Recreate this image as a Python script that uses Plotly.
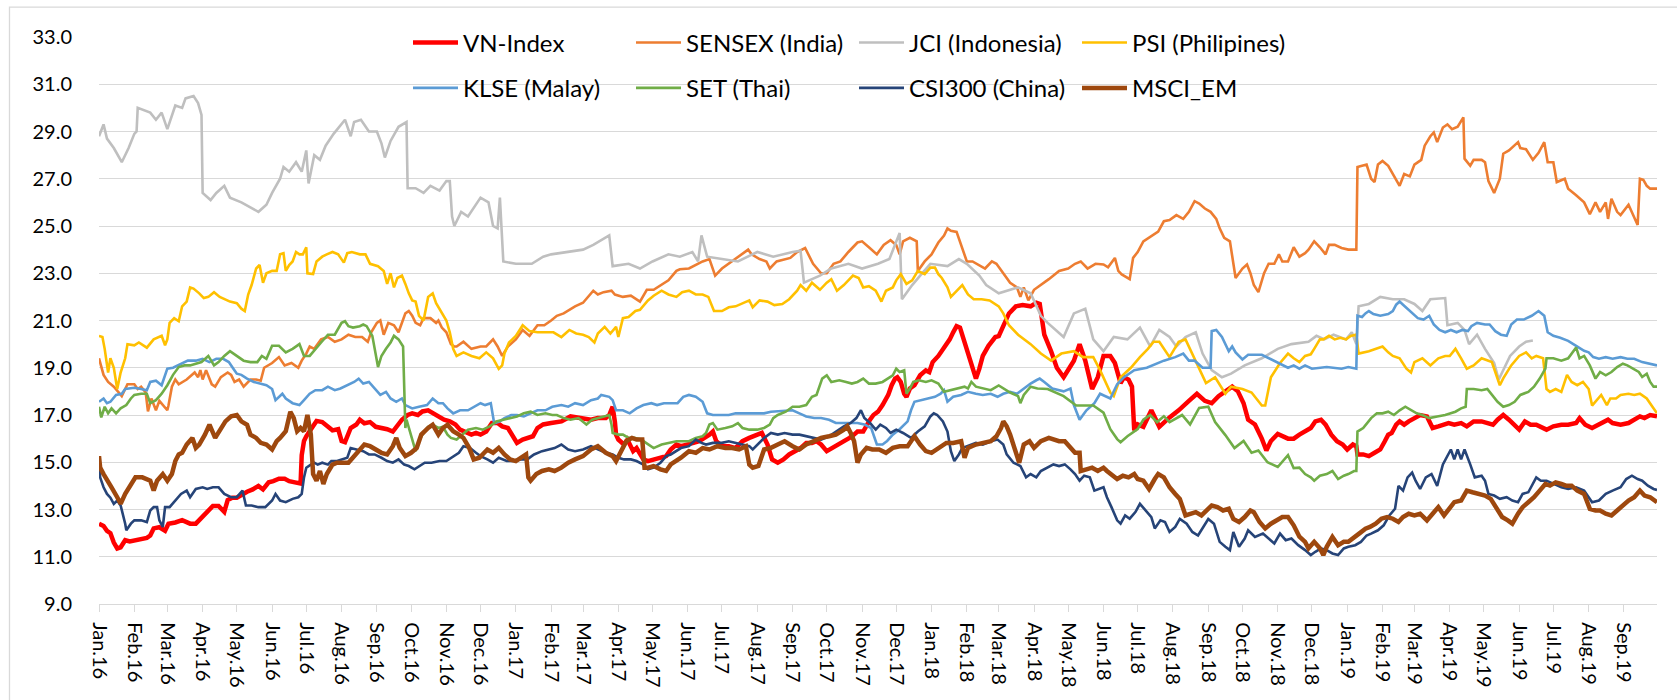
import plotly.graph_objects as go

VN_INDEX = [("2016-01-01",12.4),("2016-01-05",12.3),("2016-01-08",12.1),("2016-01-11",12.0),("2016-01-14",11.6),("2016-01-17",11.35),("2016-01-20",11.4),("2016-01-24",11.7),("2016-01-28",11.65),("2016-02-02",11.7),("2016-02-07",11.77),("2016-02-12",11.8),("2016-02-15",11.9),("2016-02-18",12.2),("2016-02-23",12.25),("2016-02-28",12.1),("2016-03-02",12.4),("2016-03-08",12.45),("2016-03-14",12.55),("2016-03-21",12.4),("2016-03-26",12.4),("2016-04-01",12.7),("2016-04-05",12.95),("2016-04-10",13.15),("2016-04-15",13.15),("2016-04-20",12.9),("2016-04-23",13.4),("2016-04-27",13.5),("2016-05-01",13.5),("2016-05-06",13.65),("2016-05-10",13.75),("2016-05-15",13.85),("2016-05-20",14.0),("2016-05-24",13.85),("2016-05-29",14.15),("2016-06-02",14.2),("2016-06-07",14.3),("2016-06-12",14.3),("2016-06-16",14.2),("2016-06-21",14.15),("2016-06-26",14.1),("2016-06-27",15.3),("2016-06-29",15.9),("2016-07-01",16.1),("2016-07-05",16.4),("2016-07-10",16.75),("2016-07-15",16.7),("2016-07-20",16.5),("2016-07-24",16.35),("2016-07-29",16.4),("2016-08-01",15.9),("2016-08-04",15.85),("2016-08-09",16.45),("2016-08-14",16.6),("2016-08-17",16.8),("2016-08-21",16.65),("2016-08-26",16.7),("2016-08-31",16.5),("2016-09-05",16.45),("2016-09-10",16.4),("2016-09-15",16.3),("2016-09-18",16.5),("2016-09-23",16.8),("2016-09-28",17.0),("2016-10-02",17.07),("2016-10-07",17.0),("2016-10-11",17.15),("2016-10-16",17.2),("2016-10-21",17.07),("2016-10-26",16.93),("2016-10-30",16.8),("2016-11-04",16.73),("2016-11-09",16.6),("2016-11-13",16.38),("2016-11-18",16.3),("2016-11-23",16.17),("2016-11-27",16.24),("2016-12-01",16.17),("2016-12-06",16.3),("2016-12-11",16.66),("2016-12-16",16.66),("2016-12-20",16.52),("2016-12-25",16.45),("2016-12-30",16.1),("2017-01-02",15.82),("2017-01-07",15.96),("2017-01-12",16.03),("2017-01-16",16.1),("2017-01-20",16.45),("2017-01-25",16.6),("2017-02-01",16.66),("2017-02-10",16.73),("2017-02-18",16.94),("2017-03-01",16.87),("2017-03-08",16.8),("2017-03-14",16.87),("2017-03-21",16.87),("2017-03-24",17.0),("2017-03-27",17.35),("2017-03-29",16.7),("2017-03-30",16.17),("2017-04-01",15.96),("2017-04-06",15.75),("2017-04-09",15.96),("2017-04-14",15.47),("2017-04-17",15.6),("2017-04-20",15.33),("2017-04-23",15.12),("2017-04-27",15.05),("2017-05-02",15.12),("2017-05-08",15.19),("2017-05-13",15.26),("2017-05-17",15.54),("2017-05-22",15.75),("2017-05-26",15.68),("2017-06-02",15.75),("2017-06-06",15.82),("2017-06-11",15.89),("2017-06-16",16.03),("2017-06-20",16.17),("2017-06-23",16.3),("2017-06-26",15.89),("2017-07-01",15.68),("2017-07-07",15.68),("2017-07-13",15.6),("2017-07-19",15.89),("2017-07-25",16.03),("2017-08-01",16.17),("2017-08-05",16.24),("2017-08-10",15.75),("2017-08-14",15.12),("2017-08-19",14.98),("2017-08-24",15.12),("2017-08-29",15.33),("2017-09-03",15.47),("2017-09-08",15.6),("2017-09-13",15.82),("2017-09-18",15.82),("2017-09-22",15.89),("2017-09-26",15.75),("2017-10-01",15.47),("2017-10-06",15.6),("2017-10-11",15.75),("2017-10-16",15.89),("2017-10-21",16.03),("2017-10-25",16.17),("2017-10-28",16.3),("2017-11-02",16.3),("2017-11-05",16.6),("2017-11-08",16.8),("2017-11-11",17.0),("2017-11-15",17.14),("2017-11-19",17.42),("2017-11-24",17.85),("2017-11-27",18.26),("2017-11-30",18.54),("2017-12-02",18.6),("2017-12-05",18.4),("2017-12-08",17.9),("2017-12-10",17.77),("2017-12-13",18.12),("2017-12-17",18.26),("2017-12-22",18.68),("2017-12-27",18.89),("2017-12-30",18.82),("2018-01-02",19.24),("2018-01-07",19.5),("2018-01-10",19.7),("2018-01-13",19.95),("2018-01-17",20.2),("2018-01-20",20.5),("2018-01-23",20.76),("2018-01-26",20.7),("2018-01-30",20.07),("2018-02-02",19.55),("2018-02-07",18.82),("2018-02-09",18.54),("2018-02-12",18.96),("2018-02-15",19.5),("2018-02-20",19.93),("2018-02-26",20.3),("2018-03-01",20.34),("2018-03-05",20.76),("2018-03-10",21.3),("2018-03-16",21.6),("2018-03-22",21.65),("2018-03-29",21.6),("2018-04-03",21.75),("2018-04-06",21.7),("2018-04-10",20.4),("2018-04-16",19.7),("2018-04-21",19.0),("2018-04-27",18.6),("2018-05-01",18.9),("2018-05-06",19.3),("2018-05-11",20.0),("2018-05-16",19.3),("2018-05-22",18.1),("2018-05-27",18.6),("2018-06-01",19.5),("2018-06-07",19.5),("2018-06-11",19.2),("2018-06-16",18.35),("2018-06-19",18.6),("2018-06-23",18.5),("2018-06-26",18.2),("2018-06-28",16.35),("2018-07-01",16.6),("2018-07-06",16.5),("2018-07-13",17.2),("2018-07-20",16.5),("2018-07-29",16.9),("2018-08-06",17.2),("2018-08-15",17.6),("2018-08-22",17.9),("2018-08-29",17.6),("2018-09-04",17.5),("2018-09-10",17.8),("2018-09-16",18.0),("2018-09-22",18.2),("2018-09-27",18.0),("2018-10-02",17.5),("2018-10-06",16.8),("2018-10-12",16.6),("2018-10-18",16.0),("2018-10-22",15.5),("2018-10-26",15.9),("2018-11-01",16.2),("2018-11-10",16.0),("2018-11-15",16.0),("2018-11-20",16.17),("2018-11-25",16.3),("2018-11-30",16.45),("2018-12-04",16.73),("2018-12-09",16.8),("2018-12-13",16.59),("2018-12-18",16.17),("2018-12-23",15.89),("2018-12-28",15.75),("2019-01-01",15.54),("2019-01-06",15.75),("2019-01-09",15.68),("2019-01-10",15.33),("2019-01-15",15.33),("2019-01-20",15.26),("2019-01-25",15.4),("2019-01-30",15.54),("2019-02-03",15.89),("2019-02-06",16.17),("2019-02-09",16.24),("2019-02-13",16.59),("2019-02-16",16.73),("2019-02-20",16.59),("2019-02-24",16.73),("2019-03-01",16.87),("2019-03-06",17.0),("2019-03-12",16.94),("2019-03-17",16.45),("2019-03-22",16.52),("2019-03-27",16.59),("2019-03-31",16.66),("2019-04-05",16.59),("2019-04-11",16.66),("2019-04-16",16.52),("2019-04-22",16.73),("2019-04-29",16.73),("2019-05-04",16.66),("2019-05-09",16.59),("2019-05-13",16.8),("2019-05-18",17.0),("2019-05-23",16.8),("2019-05-28",16.59),("2019-06-01",16.38),("2019-06-06",16.73),("2019-06-11",16.59),("2019-06-16",16.59),("2019-06-21",16.45),("2019-06-25",16.38),("2019-07-01",16.52),("2019-07-08",16.59),("2019-07-14",16.59),("2019-07-21",16.66),("2019-07-24",16.87),("2019-07-29",16.59),("2019-08-04",16.45),("2019-08-09",16.59),("2019-08-13",16.66),("2019-08-18",16.8),("2019-08-22",16.66),("2019-08-29",16.59),("2019-09-05",16.66),("2019-09-10",16.8),("2019-09-15",16.94),("2019-09-19",16.87),("2019-09-24",17.0),("2019-09-30",16.94)]

SENSEX = [("2016-01-01",19.4),("2016-01-05",18.7),("2016-01-09",18.4),("2016-01-14",18.2),("2016-01-21",17.8),("2016-01-26",18.3),("2016-02-01",18.3),("2016-02-04",18.1),("2016-02-07",18.2),("2016-02-11",17.95),("2016-02-13",17.15),("2016-02-16",17.7),("2016-02-20",17.2),("2016-02-23",17.6),("2016-03-01",17.2),("2016-03-02",17.4),("2016-03-05",18.2),("2016-03-08",18.5),("2016-03-11",18.3),("2016-03-18",18.5),("2016-03-25",18.8),("2016-03-28",18.6),("2016-03-30",18.9),("2016-04-01",18.5),("2016-04-04",18.9),("2016-04-09",18.3),("2016-04-12",18.2),("2016-04-17",18.6),("2016-04-23",18.8),("2016-04-26",18.7),("2016-04-29",18.4),("2016-05-03",18.5),("2016-05-07",18.2),("2016-05-13",18.5),("2016-05-18",18.5),("2016-05-22",18.45),("2016-05-25",19.0),("2016-06-01",19.2),("2016-06-07",19.45),("2016-06-12",19.1),("2016-06-18",19.2),("2016-06-24",19.0),("2016-06-27",19.3),("2016-07-01",19.6),("2016-07-04",19.9),("2016-07-08",19.8),("2016-07-14",20.2),("2016-07-20",20.3),("2016-07-26",20.1),("2016-08-01",20.2),("2016-08-07",20.4),("2016-08-13",20.3),("2016-08-19",20.3),("2016-08-24",20.1),("2016-08-27",20.5),("2016-09-01",20.9),("2016-09-04",21.0),("2016-09-07",20.4),("2016-09-11",20.9),("2016-09-16",20.8),("2016-09-20",20.5),("2016-09-26",21.3),("2016-09-29",21.4),("2016-10-02",21.2),("2016-10-05",20.9),("2016-10-09",20.8),("2016-10-12",21.1),("2016-10-18",21.1),("2016-10-23",20.9),("2016-10-25",21.0),("2016-10-28",20.7),("2016-11-01",20.5),("2016-11-05",20.0),("2016-11-08",19.9),("2016-11-10",19.9),("2016-11-16",20.1),("2016-11-23",19.8),("2016-12-01",19.9),("2016-12-06",19.9),("2016-12-12",20.2),("2016-12-16",19.9),("2016-12-20",19.5),("2016-12-25",19.9),("2017-01-01",20.2),("2017-01-07",20.6),("2017-01-13",20.35),("2017-01-20",20.8),("2017-01-26",20.8),("2017-02-01",21.0),("2017-02-06",21.2),("2017-02-12",21.3),("2017-02-22",21.6),("2017-03-01",21.75),("2017-03-10",22.26),("2017-03-14",22.1),("2017-03-19",22.2),("2017-03-26",22.26),("2017-03-29",22.1),("2017-04-05",22.0),("2017-04-12",22.05),("2017-04-20",21.8),("2017-04-26",22.3),("2017-05-02",22.3),("2017-05-08",22.5),("2017-05-15",22.7),("2017-05-22",23.1),("2017-05-25",23.17),("2017-06-02",23.2),("2017-06-08",23.35),("2017-06-14",23.5),("2017-06-20",23.6),("2017-06-25",22.9),("2017-07-01",23.2),("2017-07-10",23.5),("2017-07-18",23.8),("2017-07-24",24.0),("2017-07-27",23.8),("2017-08-03",23.6),("2017-08-09",23.5),("2017-08-12",23.2),("2017-08-18",23.5),("2017-08-30",23.65),("2017-09-05",23.9),("2017-09-12",24.07),("2017-09-19",23.4),("2017-09-26",23.0),("2017-10-01",23.0),("2017-10-07",23.4),("2017-10-13",23.5),("2017-10-20",23.9),("2017-10-28",24.3),("2017-11-01",24.35),("2017-11-07",24.1),("2017-11-14",23.8),("2017-11-20",24.2),("2017-11-26",24.4),("2017-12-01",24.2),("2017-12-04",23.8),("2017-12-07",24.35),("2017-12-13",24.5),("2017-12-19",24.35),("2017-12-20",23.1),("2017-12-26",23.5),("2018-01-01",23.8),("2018-01-07",24.3),("2018-01-12",24.6),("2018-01-15",24.9),("2018-01-18",24.8),("2018-01-23",24.75),("2018-01-28",24.07),("2018-02-01",23.5),("2018-02-06",23.5),("2018-02-10",23.4),("2018-02-17",23.2),("2018-02-23",23.5),("2018-02-27",23.4),("2018-03-05",23.0),("2018-03-11",22.6),("2018-03-17",22.4),("2018-03-20",22.0),("2018-03-23",22.4),("2018-03-27",21.85),("2018-04-01",22.3),("2018-04-07",22.5),("2018-04-14",22.75),("2018-04-23",23.1),("2018-05-01",23.2),("2018-05-07",23.4),("2018-05-12",23.5),("2018-05-18",23.2),("2018-05-25",23.4),("2018-06-01",23.37),("2018-06-05",23.25),("2018-06-11",23.65),("2018-06-14",23.1),("2018-06-17",22.95),("2018-06-24",22.75),("2018-06-27",23.65),("2018-07-01",23.9),("2018-07-06",24.35),("2018-07-12",24.55),("2018-07-19",24.76),("2018-07-24",25.2),("2018-07-29",25.25),("2018-08-04",25.46),("2018-08-10",25.3),("2018-08-15",25.6),("2018-08-20",26.05),("2018-08-24",25.95),("2018-08-29",25.74),("2018-09-03",25.6),("2018-09-08",25.3),("2018-09-11",24.9),("2018-09-15",24.5),("2018-09-20",24.35),("2018-09-23",23.4),("2018-09-25",22.8),("2018-10-01",23.2),("2018-10-05",23.37),("2018-10-08",23.0),("2018-10-11",22.5),("2018-10-15",22.2),("2018-10-20",23.0),("2018-10-24",23.4),("2018-10-29",23.4),("2018-11-02",23.8),("2018-11-05",23.5),("2018-11-10",23.5),("2018-11-15",24.1),("2018-11-20",23.7),("2018-11-25",23.85),("2018-11-28",24.0),("2018-12-03",24.35),("2018-12-08",24.1),("2018-12-13",23.8),("2018-12-16",24.2),("2018-12-21",24.2),("2018-12-27",24.07),("2019-01-02",24.0),("2019-01-09",24.0),("2019-01-10",27.5),("2019-01-14",27.55),("2019-01-18",27.6),("2019-01-22",27.0),("2019-01-25",26.86),("2019-01-28",27.6),("2019-02-01",27.75),("2019-02-06",27.55),("2019-02-11",27.1),("2019-02-16",26.7),("2019-02-20",27.2),("2019-02-25",27.1),("2019-03-01",27.6),("2019-03-07",27.8),("2019-03-10",28.4),("2019-03-15",28.8),("2019-03-18",28.96),("2019-03-21",28.55),("2019-03-26",29.17),("2019-03-30",29.3),("2019-04-03",29.1),("2019-04-08",29.2),("2019-04-13",29.6),("2019-04-14",27.85),("2019-04-19",27.55),("2019-04-22",27.8),("2019-04-29",27.8),("2019-05-02",27.7),("2019-05-05",26.9),("2019-05-10",26.4),("2019-05-15",27.0),("2019-05-18",28.06),("2019-05-23",28.2),("2019-05-28",28.4),("2019-05-31",28.55),("2019-06-02",28.3),("2019-06-07",28.25),("2019-06-13",27.8),("2019-06-18",28.1),("2019-06-23",28.55),("2019-06-26",27.7),("2019-07-01",27.7),("2019-07-04",26.86),("2019-07-11",27.0),("2019-07-14",26.58),("2019-07-21",26.3),("2019-07-28",26.0),("2019-08-02",25.5),("2019-08-07",26.0),("2019-08-11",25.6),("2019-08-16",26.0),("2019-08-18",25.3),("2019-08-21",26.15),("2019-08-26",25.6),("2019-08-29",25.46),("2019-09-05",25.9),("2019-09-08",25.6),("2019-09-13",25.04),("2019-09-15",27.0),("2019-09-18",26.95),("2019-09-21",26.7),("2019-09-24",26.58),("2019-09-30",26.58)]

JCI = [("2016-01-01",28.8),("2016-01-05",29.3),("2016-01-08",28.7),("2016-01-14",28.3),("2016-01-21",27.7),("2016-01-27",28.3),("2016-02-01",28.9),("2016-02-03",29.0),("2016-02-04",30.0),("2016-02-15",29.8),("2016-02-20",29.5),("2016-02-25",29.8),("2016-03-01",29.1),("2016-03-08",30.1),("2016-03-14",30.0),("2016-03-17",30.4),("2016-03-24",30.5),("2016-03-28",30.2),("2016-03-31",29.7),("2016-04-01",26.4),("2016-04-08",26.1),("2016-04-13",26.4),("2016-04-20",26.7),("2016-04-25",26.2),("2016-05-05",26.0),("2016-05-12",25.8),("2016-05-20",25.6),("2016-05-27",25.9),("2016-06-01",26.4),("2016-06-08",27.0),("2016-06-11",27.5),("2016-06-16",27.3),("2016-06-22",27.7),("2016-06-27",27.3),("2016-07-01",28.2),("2016-07-03",26.8),("2016-07-08",28.0),("2016-07-13",27.8),("2016-07-18",28.4),("2016-07-25",28.9),("2016-08-01",29.3),("2016-08-04",29.5),("2016-08-09",28.8),("2016-08-12",29.4),("2016-08-18",29.5),("2016-08-25",29.0),("2016-09-01",29.0),("2016-09-05",28.5),("2016-09-08",27.9),("2016-09-13",28.6),("2016-09-20",29.2),("2016-09-27",29.4),("2016-09-28",26.6),("2016-10-05",26.6),("2016-10-12",26.4),("2016-10-18",26.7),("2016-10-26",26.5),("2016-11-01",26.9),("2016-11-04",26.9),("2016-11-06",25.4),("2016-11-08",25.0),("2016-11-14",25.6),("2016-11-20",25.4),("2016-11-27",25.9),("2016-12-01",26.2),("2016-12-08",26.0),("2016-12-12",25.0),("2016-12-16",24.9),("2016-12-18",26.2),("2016-12-21",23.5),("2017-01-01",23.4),("2017-01-15",23.4),("2017-01-25",23.7),("2017-02-01",23.8),("2017-02-15",23.9),("2017-03-01",24.0),("2017-03-10",24.2),("2017-03-24",24.6),("2017-03-27",23.3),("2017-04-10",23.4),("2017-04-20",23.2),("2017-05-01",23.5),("2017-05-15",23.8),("2017-05-25",23.7),("2017-06-05",23.9),("2017-06-10",23.5),("2017-06-13",24.6),("2017-06-18",23.7),("2017-07-01",23.6),("2017-07-15",23.5),("2017-08-01",23.9),("2017-08-15",23.7),("2017-09-01",23.9),("2017-09-08",23.95),("2017-09-11",22.6),("2017-09-25",22.9),("2017-10-05",23.2),("2017-10-20",23.4),("2017-11-01",23.2),("2017-11-15",23.4),("2017-11-25",23.6),("2017-11-30",24.2),("2017-12-04",24.7),("2017-12-06",21.9),("2017-12-15",22.5),("2017-12-22",22.9),("2017-12-31",23.4),("2018-01-15",23.3),("2018-01-25",23.6),("2018-02-01",23.4),("2018-02-12",22.9),("2018-02-18",22.5),("2018-03-01",22.15),("2018-03-18",22.4),("2018-03-29",22.15),("2018-04-07",21.2),("2018-04-13",20.9),("2018-04-27",20.3),("2018-05-06",21.3),("2018-05-16",21.5),("2018-05-23",20.2),("2018-06-01",19.7),("2018-06-10",20.3),("2018-06-22",20.2),("2018-07-03",20.7),("2018-07-12",19.9),("2018-07-20",20.6),("2018-07-29",20.3),("2018-08-04",19.9),("2018-08-12",20.3),("2018-08-21",20.5),("2018-08-27",19.6),("2018-09-04",18.9),("2018-09-13",18.6),("2018-09-21",18.75),("2018-10-03",19.1),("2018-10-18",19.4),("2018-11-01",19.8),("2018-11-13",20.0),("2018-11-28",20.1),("2018-12-05",20.35),("2018-12-12",20.2),("2018-12-20",20.4),("2018-12-31",20.2),("2019-01-05",20.5),("2019-01-09",20.0),("2019-01-11",21.6),("2019-01-20",21.7),("2019-01-30",22.0),("2019-02-10",21.9),("2019-02-20",21.9),("2019-03-01",21.7),("2019-03-08",21.4),("2019-03-15",21.9),("2019-03-28",21.95),("2019-03-30",20.8),("2019-04-08",20.9),("2019-04-14",20.6),("2019-04-18",20.0),("2019-04-25",20.4),("2019-05-02",19.8),("2019-05-10",19.2),("2019-05-14",18.5),("2019-05-17",18.8),("2019-05-24",19.5),("2019-06-01",19.9),("2019-06-07",20.1),("2019-06-13",20.15)]

PSI = [("2016-01-01",20.35),("2016-01-04",20.3),("2016-01-06",19.8),("2016-01-09",18.8),("2016-01-11",19.4),("2016-01-14",19.0),("2016-01-17",18.1),("2016-01-20",18.8),("2016-01-24",19.4),("2016-01-26",20.0),("2016-02-01",19.95),("2016-02-05",20.07),("2016-02-12",19.85),("2016-02-18",20.2),("2016-02-25",20.35),("2016-02-28",19.95),("2016-03-01",20.2),("2016-03-03",20.9),("2016-03-07",21.1),("2016-03-11",20.97),("2016-03-14",21.6),("2016-03-18",21.8),("2016-03-21",22.4),("2016-03-24",22.35),("2016-03-29",22.15),("2016-04-02",21.95),("2016-04-06",22.0),("2016-04-11",22.2),("2016-04-16",22.0),("2016-04-20",21.9),("2016-04-25",21.8),("2016-05-01",21.73),("2016-05-05",21.5),("2016-05-08",21.4),("2016-05-11",22.1),("2016-05-14",22.5),("2016-05-18",23.2),("2016-05-21",23.35),("2016-05-24",22.6),("2016-05-27",23.0),("2016-06-01",23.1),("2016-06-05",23.1),("2016-06-08",23.8),("2016-06-11",23.85),("2016-06-13",23.1),("2016-06-16",23.35),("2016-06-19",23.5),("2016-06-22",23.9),("2016-06-25",23.8),("2016-06-28",23.8),("2016-07-01",24.1),("2016-07-02",23.0),("2016-07-07",22.97),("2016-07-10",23.5),("2016-07-15",23.7),("2016-07-19",23.8),("2016-07-24",23.9),("2016-07-29",23.8),("2016-08-03",23.45),("2016-08-06",23.85),("2016-08-10",23.9),("2016-08-17",23.8),("2016-08-22",23.8),("2016-08-26",23.4),("2016-09-02",23.3),("2016-09-07",23.1),("2016-09-10",22.55),("2016-09-13",23.0),("2016-09-16",22.4),("2016-09-19",22.8),("2016-09-23",22.9),("2016-09-26",22.55),("2016-09-29",22.15),("2016-10-02",21.85),("2016-10-05",21.8),("2016-10-08",21.2),("2016-10-12",21.0),("2016-10-16",22.0),("2016-10-20",22.15),("2016-10-23",21.73),("2016-10-28",21.3),("2016-11-01",21.0),("2016-11-04",20.5),("2016-11-07",19.8),("2016-11-10",19.5),("2016-11-16",19.65),("2016-11-23",19.5),("2016-11-30",19.4),("2016-12-06",19.65),("2016-12-12",19.4),("2016-12-17",18.95),("2016-12-20",19.1),("2016-12-22",19.6),("2016-12-26",20.07),("2017-01-01",20.35),("2017-01-07",20.8),("2017-01-13",20.55),("2017-01-20",20.5),("2017-01-27",20.5),("2017-02-03",20.5),("2017-02-10",20.3),("2017-02-17",20.6),("2017-02-23",20.45),("2017-03-01",20.4),("2017-03-06",20.3),("2017-03-11",20.07),("2017-03-14",20.45),("2017-03-20",20.73),("2017-03-25",20.45),("2017-03-30",20.73),("2017-04-01",20.3),("2017-04-05",21.1),("2017-04-10",21.15),("2017-04-16",21.4),("2017-04-20",21.45),("2017-04-27",21.85),("2017-05-02",22.05),("2017-05-09",22.26),("2017-05-15",22.1),("2017-05-22",22.0),("2017-05-27",22.2),("2017-06-02",22.26),("2017-06-08",22.1),("2017-06-14",22.1),("2017-06-19",22.0),("2017-06-24",21.4),("2017-07-01",21.4),("2017-07-07",21.56),("2017-07-13",21.6),("2017-07-18",21.7),("2017-07-25",21.85),("2017-07-28",21.56),("2017-08-03",21.85),("2017-08-10",21.8),("2017-08-16",21.65),("2017-08-23",21.7),("2017-08-29",21.9),("2017-09-05",22.26),("2017-09-08",22.5),("2017-09-13",22.26),("2017-09-18",22.6),("2017-09-25",22.3),("2017-10-01",22.6),("2017-10-05",22.75),("2017-10-10",22.26),("2017-10-16",22.5),("2017-10-24",22.9),("2017-10-29",22.8),("2017-11-02",22.4),("2017-11-07",22.45),("2017-11-13",22.26),("2017-11-18",21.8),("2017-11-22",22.26),("2017-11-28",22.4),("2017-12-01",22.7),("2017-12-05",22.96),("2017-12-10",22.55),("2017-12-15",22.7),("2017-12-20",23.1),("2017-12-26",22.96),("2017-12-31",23.24),("2018-01-04",23.24),("2018-01-07",22.96),("2018-01-10",22.8),("2018-01-15",22.4),("2018-01-18",22.0),("2018-01-23",22.26),("2018-01-28",22.5),("2018-02-02",22.1),("2018-02-07",21.9),("2018-02-14",21.9),("2018-02-21",21.85),("2018-03-01",21.6),("2018-03-05",21.3),("2018-03-10",20.8),("2018-03-18",20.4),("2018-03-29",20.0),("2018-04-07",19.6),("2018-04-16",19.3),("2018-04-25",19.6),("2018-05-06",19.7),("2018-05-14",19.45),("2018-05-23",19.45),("2018-05-29",18.9),("2018-06-07",17.95),("2018-06-10",17.8),("2018-06-16",18.6),("2018-06-25",19.0),("2018-07-03",19.45),("2018-07-10",19.8),("2018-07-15",20.1),("2018-07-20",20.1),("2018-07-29",19.45),("2018-08-06",20.1),("2018-08-12",20.2),("2018-08-21",19.3),("2018-08-30",18.35),("2018-09-07",18.6),("2018-09-16",17.9),("2018-09-21",18.2),("2018-10-01",18.1),("2018-10-09",17.95),("2018-10-18",17.4),("2018-10-21",17.4),("2018-10-26",18.6),("2018-11-03",19.2),("2018-11-10",19.6),("2018-11-15",19.4),("2018-11-20",19.24),("2018-11-25",19.5),("2018-11-30",19.57),("2018-12-03",19.8),("2018-12-08",20.2),("2018-12-11",20.2),("2018-12-16",20.35),("2018-12-21",20.2),("2018-12-26",20.27),("2018-12-31",20.2),("2019-01-04",20.35),("2019-01-09",20.4),("2019-01-11",19.6),("2019-01-20",19.7),("2019-02-01",19.9),("2019-02-06",19.65),("2019-02-10",19.5),("2019-02-16",19.4),("2019-02-22",18.96),("2019-02-26",18.8),("2019-03-01",19.24),("2019-03-08",19.4),("2019-03-15",19.1),("2019-03-22",19.4),("2019-03-28",19.5),("2019-04-01",19.5),("2019-04-06",19.8),("2019-04-11",19.4),("2019-04-16",18.96),("2019-04-22",19.1),("2019-04-29",19.4),("2019-05-08",19.24),("2019-05-12",18.7),("2019-05-15",18.26),("2019-05-18",18.55),("2019-05-21",18.8),("2019-05-25",19.1),("2019-06-01",19.5),("2019-06-07",19.65),("2019-06-12",19.4),("2019-06-16",19.5),("2019-06-22",19.4),("2019-06-25",18.1),("2019-06-28",17.98),("2019-07-03",18.1),("2019-07-08",17.98),("2019-07-13",18.7),("2019-07-17",18.4),("2019-07-22",18.26),("2019-07-27",18.4),("2019-08-01",18.1),("2019-08-04",17.4),("2019-08-07",17.56),("2019-08-12",17.85),("2019-08-17",17.42),("2019-08-20",17.7),("2019-08-25",17.7),("2019-08-29",17.85),("2019-09-05",17.9),("2019-09-10",17.85),("2019-09-15",17.9),("2019-09-21",17.7),("2019-09-26",17.35),("2019-09-30",17.07)]

KLSE = [("2016-01-01",17.56),("2016-01-05",17.7),("2016-01-08",17.5),("2016-01-11",17.56),("2016-01-16",17.85),("2016-01-21",17.9),("2016-01-24",18.1),("2016-02-01",18.15),("2016-02-07",18.1),("2016-02-12",18.05),("2016-02-15",18.4),("2016-02-20",18.45),("2016-02-25",18.26),("2016-03-01",18.96),("2016-03-06",19.0),("2016-03-13",19.17),("2016-03-19",19.3),("2016-03-26",19.3),("2016-04-01",19.38),("2016-04-07",19.24),("2016-04-13",19.38),("2016-04-19",19.38),("2016-04-24",19.24),("2016-04-28",18.96),("2016-05-01",18.75),("2016-05-05",18.7),("2016-05-10",18.54),("2016-05-16",18.4),("2016-05-22",18.33),("2016-05-27",18.26),("2016-06-01",18.1),("2016-06-04",17.63),("2016-06-10",17.9),("2016-06-13",17.7),("2016-06-19",17.5),("2016-06-25",17.42),("2016-06-29",17.63),("2016-07-04",17.9),("2016-07-09",18.05),("2016-07-15",18.05),("2016-07-20",18.2),("2016-07-26",18.05),("2016-07-31",18.12),("2016-08-06",18.26),("2016-08-12",18.4),("2016-08-16",18.54),("2016-08-20",18.33),("2016-08-25",18.4),("2016-08-30",18.12),("2016-09-04",17.85),("2016-09-09",17.98),("2016-09-13",17.7),("2016-09-18",17.56),("2016-09-23",17.7),("2016-09-26",17.42),("2016-09-29",17.35),("2016-10-02",17.28),("2016-10-08",17.35),("2016-10-15",17.42),("2016-10-20",17.7),("2016-10-25",17.5),("2016-10-29",17.5),("2016-11-02",17.28),("2016-11-07",17.07),("2016-11-13",17.2),("2016-11-20",17.2),("2016-11-26",17.35),("2016-12-01",17.5),("2016-12-05",17.42),("2016-12-10",17.5),("2016-12-13",16.65),("2016-12-18",16.73),("2016-12-22",16.87),("2016-12-28",17.0),("2017-01-02",17.0),("2017-01-08",16.94),("2017-01-14",17.07),("2017-01-20",17.2),("2017-01-27",17.2),("2017-02-02",17.35),("2017-02-10",17.42),("2017-02-16",17.35),("2017-02-22",17.5),("2017-03-01",17.42),("2017-03-08",17.63),("2017-03-14",17.7),("2017-03-17",17.85),("2017-03-24",17.77),("2017-03-27",17.63),("2017-03-30",17.2),("2017-04-05",17.2),("2017-04-11",17.07),("2017-04-17",17.28),("2017-04-23",17.42),("2017-04-30",17.5),("2017-05-05",17.42),("2017-05-11",17.5),("2017-05-17",17.5),("2017-05-23",17.5),("2017-05-28",17.77),("2017-06-02",17.85),("2017-06-08",17.77),("2017-06-14",17.56),("2017-06-18",17.07),("2017-06-23",17.0),("2017-07-01",17.0),("2017-07-07",17.0),("2017-07-13",17.07),("2017-07-25",17.07),("2017-08-07",17.07),("2017-08-13",17.14),("2017-08-26",17.2),("2017-09-01",17.2),("2017-09-07",17.07),("2017-09-13",16.94),("2017-09-20",16.87),("2017-09-26",16.87),("2017-10-03",16.8),("2017-10-09",16.66),("2017-10-28",16.66),("2017-11-03",16.6),("2017-11-09",16.45),("2017-11-14",15.75),("2017-11-19",15.75),("2017-11-23",15.9),("2017-11-28",16.17),("2017-12-04",16.4),("2017-12-11",16.73),("2017-12-14",17.2),("2017-12-17",17.56),("2017-12-23",17.63),("2017-12-29",17.7),("2018-01-04",17.77),("2018-01-09",17.9),("2018-01-12",18.05),("2018-01-15",17.56),("2018-01-20",17.77),("2018-01-27",17.85),("2018-02-02",17.98),("2018-02-09",17.9),("2018-02-15",17.85),("2018-02-22",17.9),("2018-02-28",17.77),("2018-03-05",17.9),("2018-03-11",17.98),("2018-03-17",17.9),("2018-03-23",18.12),("2018-03-29",18.33),("2018-04-03",18.47),("2018-04-06",18.54),("2018-04-10",18.4),("2018-04-17",18.12),("2018-04-27",18.0),("2018-05-03",18.12),("2018-05-06",17.42),("2018-05-11",16.8),("2018-05-14",17.0),("2018-05-17",17.2),("2018-05-24",17.5),("2018-05-29",17.9),("2018-06-07",17.7),("2018-06-13",18.3),("2018-06-19",18.6),("2018-06-28",18.9),("2018-07-09",19.0),("2018-07-24",19.3),("2018-08-03",19.45),("2018-08-10",19.6),("2018-08-15",19.3),("2018-08-20",19.3),("2018-08-27",19.0),("2018-09-03",19.0),("2018-09-04",20.55),("2018-09-08",20.6),("2018-09-13",20.3),("2018-09-19",19.7),("2018-09-22",19.9),("2018-09-25",19.65),("2018-10-01",19.35),("2018-10-06",19.55),("2018-10-18",19.55),("2018-10-29",19.3),("2018-11-10",19.0),("2018-11-15",19.1),("2018-11-20",18.96),("2018-11-25",19.1),("2018-12-01",18.96),("2018-12-14",19.03),("2018-12-27",18.96),("2019-01-02",19.03),("2019-01-09",18.96),("2019-01-10",21.2),("2019-01-14",21.15),("2019-01-17",21.3),("2019-01-20",21.4),("2019-01-24",21.27),("2019-01-30",21.2),("2019-02-06",21.27),("2019-02-10",21.4),("2019-02-13",21.67),("2019-02-16",21.8),("2019-02-19",21.67),("2019-02-24",21.46),("2019-03-01",21.25),("2019-03-04",21.1),("2019-03-09",21.04),("2019-03-14",21.2),("2019-03-18",20.83),("2019-03-23",20.6),("2019-03-28",20.5),("2019-04-02",20.6),("2019-04-07",20.5),("2019-04-12",20.6),("2019-04-17",20.55),("2019-04-20",20.76),("2019-04-25",20.9),("2019-05-02",20.83),("2019-05-06",20.83),("2019-05-11",20.55),("2019-05-16",20.4),("2019-05-21",20.35),("2019-05-25",20.83),("2019-05-30",21.04),("2019-06-05",21.04),("2019-06-12",21.2),("2019-06-18",21.4),("2019-06-23",21.2),("2019-06-26",20.5),("2019-07-01",20.35),("2019-07-07",20.27),("2019-07-14",20.14),("2019-07-21",19.93),("2019-07-28",19.72),("2019-08-01",19.65),("2019-08-05",19.45),("2019-08-10",19.38),("2019-08-16",19.45),("2019-08-22",19.38),("2019-08-29",19.45),("2019-09-04",19.38),("2019-09-10",19.38),("2019-09-17",19.24),("2019-09-23",19.17),("2019-09-30",19.1)]

SET = [("2016-01-01",17.35),("2016-01-03",16.9),("2016-01-06",17.35),("2016-01-09",17.07),("2016-01-12",17.28),("2016-01-16",17.07),("2016-01-20",17.28),("2016-01-25",17.42),("2016-01-29",17.7),("2016-02-01",17.85),("2016-02-07",17.9),("2016-02-12",17.9),("2016-02-15",17.5),("2016-02-20",17.63),("2016-02-25",17.9),("2016-03-01",18.26),("2016-03-06",18.7),("2016-03-11",19.03),("2016-03-16",19.1),("2016-03-21",19.1),("2016-03-26",19.17),("2016-03-31",19.24),("2016-04-06",19.5),("2016-04-11",19.1),("2016-04-15",19.24),("2016-04-20",19.5),("2016-04-25",19.7),("2016-04-29",19.57),("2016-05-02",19.45),("2016-05-07",19.3),("2016-05-13",19.24),("2016-05-19",19.24),("2016-05-23",19.5),("2016-05-27",19.38),("2016-06-01",19.93),("2016-06-07",19.93),("2016-06-13",19.65),("2016-06-19",19.8),("2016-06-25",20.0),("2016-06-29",19.5),("2016-07-04",19.5),("2016-07-09",19.8),("2016-07-14",20.07),("2016-07-20",20.4),("2016-07-26",20.4),("2016-08-01",20.9),("2016-08-04",20.97),("2016-08-07",20.76),("2016-08-11",20.7),("2016-08-17",20.76),("2016-08-20",20.83),("2016-08-23",20.76),("2016-08-28",20.35),("2016-09-02",19.03),("2016-09-05",19.5),("2016-09-09",19.8),("2016-09-13",20.07),("2016-09-16",20.35),("2016-09-20",20.2),("2016-09-24",19.9),("2016-09-25",17.5),("2016-09-26",16.45),("2016-09-27",16.8),("2016-09-29",16.45),("2016-10-02",15.9),("2016-10-05",15.47),("2016-10-08",15.9),("2016-10-11",16.17),("2016-10-16",16.5),("2016-10-20",16.59),("2016-10-25",16.45),("2016-10-29",16.5),("2016-11-02",16.17),("2016-11-05",16.03),("2016-11-10",15.96),("2016-11-15",16.17),("2016-11-20",16.38),("2016-11-27",16.45),("2016-12-03",16.38),("2016-12-09",16.52),("2016-12-15",16.73),("2016-12-21",16.8),("2016-12-27",16.87),("2017-01-02",16.94),("2017-01-08",17.07),("2017-01-14",17.14),("2017-01-20",17.0),("2017-01-27",17.07),("2017-02-02",17.0),("2017-02-06",17.0),("2017-02-12",16.87),("2017-02-18",16.8),("2017-02-25",16.87),("2017-03-04",16.6),("2017-03-09",16.8),("2017-03-14",16.87),("2017-03-21",16.94),("2017-03-24",17.0),("2017-03-26",16.6),("2017-03-27",16.24),("2017-04-01",16.17),("2017-04-05",16.17),("2017-04-10",16.03),("2017-04-15",16.03),("2017-04-21",15.96),("2017-04-27",15.75),("2017-05-02",15.6),("2017-05-09",15.75),("2017-05-15",15.82),("2017-05-22",15.89),("2017-05-27",15.89),("2017-06-02",15.89),("2017-06-08",16.03),("2017-06-14",16.1),("2017-06-17",16.24),("2017-06-20",16.6),("2017-06-23",16.66),("2017-06-27",16.38),("2017-07-04",16.45),("2017-07-10",16.52),("2017-07-15",16.66),("2017-07-19",16.45),("2017-07-25",16.38),("2017-08-01",16.38),("2017-08-07",16.45),("2017-08-12",16.59),("2017-08-15",16.87),("2017-08-19",17.0),("2017-08-26",17.14),("2017-09-01",17.35),("2017-09-07",17.35),("2017-09-13",17.42),("2017-09-18",17.77),("2017-09-22",17.85),("2017-09-27",18.54),("2017-10-01",18.68),("2017-10-05",18.4),("2017-10-12",18.47),("2017-10-18",18.4),("2017-10-23",18.33),("2017-10-28",18.4),("2017-11-02",18.54),("2017-11-07",18.33),("2017-11-13",18.33),("2017-11-19",18.4),("2017-11-23",18.54),("2017-11-28",18.68),("2017-12-01",18.96),("2017-12-04",18.82),("2017-12-08",18.89),("2017-12-10",17.9),("2017-12-13",18.12),("2017-12-16",18.4),("2017-12-21",18.47),("2017-12-27",18.4),("2018-01-01",18.47),("2018-01-07",18.33),("2018-01-12",17.98),("2018-01-17",18.05),("2018-01-23",18.12),("2018-01-30",18.2),("2018-02-02",18.12),("2018-02-05",18.4),("2018-02-09",18.2),("2018-02-15",18.12),("2018-02-22",18.05),("2018-03-01",18.25),("2018-03-11",17.95),("2018-03-18",17.8),("2018-03-20",17.5),("2018-03-23",17.85),("2018-03-29",18.2),("2018-04-04",18.12),("2018-04-13",18.1),("2018-04-27",17.8),("2018-05-08",17.4),("2018-05-23",17.4),("2018-06-01",17.1),("2018-06-07",16.4),("2018-06-13",15.98),("2018-06-16",15.85),("2018-06-22",16.1),("2018-07-01",16.4),("2018-07-06",16.8),("2018-07-12",17.0),("2018-07-18",16.7),("2018-07-24",16.95),("2018-07-29",16.7),("2018-08-09",17.0),("2018-08-16",16.6),("2018-08-24",17.3),("2018-09-01",17.35),("2018-09-07",16.7),("2018-09-16",16.15),("2018-09-24",15.6),("2018-10-02",15.9),("2018-10-09",15.4),("2018-10-15",15.5),("2018-10-23",15.0),("2018-11-01",14.8),("2018-11-10",15.3),("2018-11-15",14.75),("2018-11-20",14.77),("2018-11-25",14.5),("2018-11-30",14.36),("2018-12-03",14.22),("2018-12-08",14.43),("2018-12-14",14.5),("2018-12-19",14.63),("2018-12-24",14.29),("2018-12-29",14.43),("2019-01-02",14.5),("2019-01-07",14.63),("2019-01-09",14.63),("2019-01-10",16.3),("2019-01-15",16.45),("2019-01-22",16.87),("2019-01-27",17.07),("2019-02-01",17.07),("2019-02-06",17.14),("2019-02-11",17.0),("2019-02-16",17.2),("2019-02-21",17.35),("2019-02-26",17.2),("2019-03-03",17.07),("2019-03-08",17.0),("2019-03-14",16.87),("2019-03-21",16.94),("2019-03-28",17.0),("2019-04-06",17.14),("2019-04-11",17.28),("2019-04-15",17.35),("2019-04-16",18.1),("2019-04-22",18.1),("2019-04-29",18.05),("2019-05-04",18.1),("2019-05-08",17.85),("2019-05-13",17.56),("2019-05-18",17.35),("2019-05-23",17.42),("2019-05-28",17.56),("2019-06-02",17.85),("2019-06-09",17.98),("2019-06-14",18.2),("2019-06-19",18.54),("2019-06-24",18.96),("2019-06-25",19.4),("2019-07-01",19.4),("2019-07-08",19.3),("2019-07-14",19.4),("2019-07-21",19.86),("2019-07-24",19.4),("2019-07-28",19.5),("2019-08-02",19.1),("2019-08-07",18.54),("2019-08-11",18.82),("2019-08-16",18.68),("2019-08-21",18.82),("2019-08-26",19.03),("2019-08-31",19.17),("2019-09-04",19.1),("2019-09-09",18.96),("2019-09-14",18.82),("2019-09-17",18.61),("2019-09-21",18.75),("2019-09-24",18.4),("2019-09-27",18.2),("2019-09-30",18.2)]

CSI300 = [("2016-01-01",15.05),("2016-01-02",14.36),("2016-01-05",13.94),("2016-01-08",13.66),("2016-01-11",13.5),("2016-01-14",13.24),("2016-01-17",13.38),("2016-01-20",13.17),("2016-01-24",12.4),("2016-01-25",12.12),("2016-01-29",12.4),("2016-02-01",12.54),("2016-02-07",12.54),("2016-02-12",12.47),("2016-02-15",12.96),("2016-02-18",13.1),("2016-02-21",13.1),("2016-02-23",12.54),("2016-02-26",12.26),("2016-02-28",13.1),("2016-03-03",13.1),("2016-03-08",13.38),("2016-03-13",13.66),("2016-03-18",13.8),("2016-03-21",13.52),("2016-03-26",13.87),("2016-04-01",13.94),("2016-04-05",13.87),("2016-04-10",13.94),("2016-04-15",13.94),("2016-04-20",13.66),("2016-04-26",13.52),("2016-05-01",13.52),("2016-05-06",13.8),("2016-05-09",13.17),("2016-05-14",13.17),("2016-05-20",13.1),("2016-05-26",13.1),("2016-06-01",13.38),("2016-06-04",13.66),("2016-06-08",13.38),("2016-06-13",13.31),("2016-06-19",13.45),("2016-06-24",13.52),("2016-06-27",13.66),("2016-06-29",14.36),("2016-07-01",14.77),("2016-07-05",14.9),("2016-07-08",14.98),("2016-07-11",14.9),("2016-07-15",14.98),("2016-07-20",14.9),("2016-07-23",15.05),("2016-07-28",15.05),("2016-08-01",15.12),("2016-08-06",15.19),("2016-08-09",15.6),("2016-08-14",15.54),("2016-08-20",15.47),("2016-08-25",15.33),("2016-08-30",15.33),("2016-09-05",15.19),("2016-09-10",15.05),("2016-09-15",14.98),("2016-09-20",15.12),("2016-09-25",14.9),("2016-09-29",14.84),("2016-10-04",14.7),("2016-10-08",14.84),("2016-10-13",14.98),("2016-10-19",14.98),("2016-10-26",15.05),("2016-11-01",15.05),("2016-11-07",15.26),("2016-11-12",15.4),("2016-11-16",15.68),("2016-11-22",15.6),("2016-11-27",15.4),("2016-12-01",15.26),("2016-12-07",15.12),("2016-12-12",14.98),("2016-12-17",15.19),("2016-12-24",15.05),("2016-12-30",15.05),("2017-01-05",15.12),("2017-01-11",15.12),("2017-01-17",15.33),("2017-01-24",15.47),("2017-01-31",15.54),("2017-02-04",15.6),("2017-02-10",15.75),("2017-02-16",15.54),("2017-02-22",15.47),("2017-03-01",15.54),("2017-03-08",15.68),("2017-03-14",15.54),("2017-03-21",15.4),("2017-03-27",15.33),("2017-04-01",15.19),("2017-04-06",15.12),("2017-04-12",15.12),("2017-04-17",15.05),("2017-04-23",14.9),("2017-04-27",14.7),("2017-05-02",14.77),("2017-05-08",14.98),("2017-05-13",15.26),("2017-05-17",15.33),("2017-05-22",15.47),("2017-05-26",15.6),("2017-06-02",15.68),("2017-06-08",15.96),("2017-06-13",15.82),("2017-06-17",15.75),("2017-06-23",15.82),("2017-07-01",15.82),("2017-07-07",15.89),("2017-07-13",15.82),("2017-07-19",15.75),("2017-07-25",15.68),("2017-07-28",15.54),("2017-08-01",15.75),("2017-08-07",16.03),("2017-08-13",16.24),("2017-08-19",16.17),("2017-08-25",16.24),("2017-09-01",16.17),("2017-09-07",16.17),("2017-09-13",16.1),("2017-09-20",16.03),("2017-09-26",15.96),("2017-10-03",16.1),("2017-10-09",16.3),("2017-10-16",16.52),("2017-10-22",16.66),("2017-10-27",16.87),("2017-10-31",17.2),("2017-11-03",16.87),("2017-11-08",16.66),("2017-11-13",16.38),("2017-11-17",16.59),("2017-11-22",16.45),("2017-11-26",16.24),("2017-12-01",16.38),("2017-12-07",16.24),("2017-12-14",16.03),("2017-12-20",16.3),("2017-12-26",16.52),("2017-12-31",16.94),("2018-01-03",17.07),("2018-01-06",17.0),("2018-01-11",16.73),("2018-01-15",16.3),("2018-01-18",15.47),("2018-01-21",15.05),("2018-01-25",15.33),("2018-01-28",15.6),("2018-02-02",15.68),("2018-02-09",15.82),("2018-02-15",15.75),("2018-02-22",15.89),("2018-02-28",15.96),("2018-03-05",15.75),("2018-03-08",15.33),("2018-03-14",14.98),("2018-03-20",14.84),("2018-03-25",14.36),("2018-03-29",14.5),("2018-04-03",14.36),("2018-04-07",14.63),("2018-04-12",14.77),("2018-04-18",14.91),("2018-04-23",14.84),("2018-04-28",14.91),("2018-05-03",14.7),("2018-05-07",14.5),("2018-05-11",14.22),("2018-05-15",14.43),("2018-05-20",14.36),("2018-05-24",13.8),("2018-06-01",13.94),("2018-06-04",13.52),("2018-06-08",13.1),("2018-06-13",12.54),("2018-06-16",12.4),("2018-06-20",12.75),("2018-06-24",12.61),("2018-06-29",12.89),("2018-07-03",13.24),("2018-07-08",12.96),("2018-07-13",12.68),("2018-07-16",12.2),("2018-07-21",12.54),("2018-07-25",12.47),("2018-07-29",12.05),("2018-08-03",12.26),("2018-08-07",12.6),("2018-08-13",12.4),("2018-08-18",12.05),("2018-08-23",11.9),("2018-08-28",12.26),("2018-09-01",12.6),("2018-09-06",12.4),("2018-09-11",11.63),("2018-09-16",11.42),("2018-09-20",11.28),("2018-09-23",12.05),("2018-09-28",11.42),("2018-10-03",11.77),("2018-10-06",12.12),("2018-10-12",11.84),("2018-10-19",11.98),("2018-10-24",11.77),("2018-10-29",11.56),("2018-11-03",11.98),("2018-11-08",11.7),("2018-11-13",11.77),("2018-11-19",11.49),("2018-11-25",11.28),("2018-11-30",11.07),("2018-12-04",11.21),("2018-12-09",11.35),("2018-12-14",11.28),("2018-12-19",11.14),("2018-12-24",11.07),("2018-12-29",11.35),("2019-01-02",11.42),("2019-01-08",11.49),("2019-01-13",11.63),("2019-01-18",11.9),("2019-01-22",11.98),("2019-01-28",12.12),("2019-02-02",12.33),("2019-02-07",12.75),("2019-02-12",13.03),("2019-02-15",14.0),("2019-02-19",13.8),("2019-02-23",14.36),("2019-02-27",14.56),("2019-03-02",14.22),("2019-03-06",13.87),("2019-03-11",14.36),("2019-03-16",14.5),("2019-03-21",14.0),("2019-03-26",14.91),("2019-03-31",15.33),("2019-04-02",15.54),("2019-04-05",15.12),("2019-04-08",15.54),("2019-04-11",15.12),("2019-04-14",15.54),("2019-04-19",14.91),("2019-04-23",14.36),("2019-04-29",14.43),("2019-05-02",14.22),("2019-05-05",13.66),("2019-05-10",13.59),("2019-05-15",13.45),("2019-05-21",13.52),("2019-05-26",13.38),("2019-05-31",13.31),("2019-06-04",13.66),("2019-06-09",13.73),("2019-06-16",14.36),("2019-06-20",14.22),("2019-06-25",14.22),("2019-07-01",14.08),("2019-07-08",13.94),("2019-07-14",13.87),("2019-07-21",13.94),("2019-07-28",13.8),("2019-08-04",13.31),("2019-08-10",13.38),("2019-08-16",13.66),("2019-08-22",13.8),("2019-08-29",13.94),("2019-09-03",14.29),("2019-09-08",14.43),("2019-09-13",14.29),("2019-09-17",14.22),("2019-09-22",14.01),("2019-09-27",13.87),("2019-09-30",13.83)]

MSCI_EM = [("2016-01-01",15.26),("2016-01-02",14.77),("2016-01-05",14.5),("2016-01-08",14.22),("2016-01-12",13.94),("2016-01-17",13.52),("2016-01-20",13.24),("2016-01-24",13.66),("2016-01-27",13.87),("2016-01-30",14.15),("2016-02-02",14.36),("2016-02-08",14.36),("2016-02-15",14.22),("2016-02-18",13.8),("2016-02-21",14.22),("2016-02-26",14.5),("2016-03-01",14.22),("2016-03-05",14.5),("2016-03-08",15.05),("2016-03-11",15.33),("2016-03-14",15.4),("2016-03-18",15.75),("2016-03-23",16.03),("2016-03-26",15.61),("2016-03-29",15.75),("2016-04-03",16.17),("2016-04-07",16.59),("2016-04-12",16.03),("2016-04-16",16.31),("2016-04-21",16.73),("2016-04-26",16.94),("2016-05-01",17.0),("2016-05-05",16.73),("2016-05-10",16.59),("2016-05-13",16.17),("2016-05-18",16.03),("2016-05-22",15.82),("2016-05-27",15.75),("2016-06-01",15.54),("2016-06-05",15.89),("2016-06-08",16.03),("2016-06-13",16.31),("2016-06-17",17.14),("2016-06-20",16.87),("2016-06-23",16.31),("2016-06-26",16.45),("2016-06-29",16.31),("2016-07-02",17.0),("2016-07-05",16.17),("2016-07-07",14.5),("2016-07-10",14.22),("2016-07-13",14.63),("2016-07-16",14.08),("2016-07-19",14.5),("2016-07-24",14.9),("2016-07-28",14.98),("2016-08-07",14.98),("2016-08-11",15.19),("2016-08-16",15.47),("2016-08-21",15.75),("2016-08-26",15.68),("2016-08-31",15.54),("2016-09-05",15.4),("2016-09-10",15.33),("2016-09-15",15.68),("2016-09-18",16.03),("2016-09-21",15.61),("2016-09-26",15.26),("2016-10-01",15.4),("2016-10-06",15.61),("2016-10-10",16.17),("2016-10-16",16.45),("2016-10-20",16.59),("2016-10-25",16.17),("2016-10-29",16.45),("2016-11-02",16.59),("2016-11-07",16.31),("2016-11-12",16.17),("2016-11-16",16.03),("2016-11-21",15.61),("2016-11-25",15.12),("2016-11-30",15.19),("2016-12-03",15.33),("2016-12-07",15.54),("2016-12-12",15.4),("2016-12-17",15.61),("2016-12-22",15.33),("2016-12-27",15.12),("2017-01-01",15.05),("2017-01-05",15.19),("2017-01-10",15.33),("2017-01-12",14.36),("2017-01-14",14.22),("2017-01-19",14.5),("2017-01-24",14.63),("2017-01-30",14.7),("2017-02-04",14.63),("2017-02-10",14.77),("2017-02-16",14.98),("2017-02-22",15.12),("2017-03-01",15.26),("2017-03-08",15.54),("2017-03-14",15.68),("2017-03-21",15.4),("2017-03-27",15.26),("2017-03-30",15.05),("2017-04-03",15.4),("2017-04-08",15.89),("2017-04-13",16.03),("2017-04-17",15.96),("2017-04-22",15.96),("2017-04-24",14.77),("2017-04-27",14.77),("2017-05-02",14.84),("2017-05-08",14.7),("2017-05-13",14.63),("2017-05-17",14.91),("2017-05-22",15.05),("2017-05-26",15.19),("2017-06-02",15.47),("2017-06-08",15.4),("2017-06-14",15.6),("2017-06-20",15.54),("2017-06-27",15.68),("2017-07-04",15.6),("2017-07-10",15.6),("2017-07-16",15.54),("2017-07-22",15.68),("2017-07-25",14.9),("2017-07-28",14.77),("2017-08-02",14.84),("2017-08-07",15.54),("2017-08-13",15.61),("2017-08-19",15.75),("2017-08-25",15.89),("2017-09-01",15.68),("2017-09-07",15.54),("2017-09-13",15.75),("2017-09-20",15.89),("2017-09-26",16.03),("2017-10-03",16.1),("2017-10-09",16.17),("2017-10-16",16.38),("2017-10-19",16.52),("2017-10-22",16.24),("2017-10-25",15.89),("2017-10-28",14.98),("2017-10-31",15.33),("2017-11-05",15.61),("2017-11-10",15.54),("2017-11-16",15.54),("2017-11-22",15.4),("2017-11-28",15.61),("2017-12-04",15.68),("2017-12-11",15.68),("2017-12-17",16.1),("2017-12-22",15.75),("2017-12-27",15.47),("2018-01-01",15.4),("2018-01-07",15.61),("2018-01-14",15.82),("2018-01-20",15.82),("2018-01-27",15.89),("2018-01-30",15.19),("2018-02-02",15.61),("2018-02-09",15.75),("2018-02-15",15.82),("2018-02-22",15.89),("2018-02-27",16.1),("2018-03-03",16.45),("2018-03-05",16.73),("2018-03-08",16.52),("2018-03-11",16.17),("2018-03-16",15.47),("2018-03-19",14.98),("2018-03-23",15.75),("2018-03-28",15.89),("2018-04-01",15.61),("2018-04-07",15.89),("2018-04-14",16.03),("2018-04-19",15.96),("2018-04-23",15.89),("2018-04-28",15.89),("2018-05-03",15.61),("2018-05-07",15.4),("2018-05-11",15.4),("2018-05-12",14.63),("2018-05-17",14.7),("2018-05-22",14.77),("2018-05-27",14.63),("2018-06-01",14.77),("2018-06-04",14.63),("2018-06-09",14.43),("2018-06-13",14.29),("2018-06-18",14.43),("2018-06-23",14.36),("2018-06-28",14.5),("2018-07-01",14.29),("2018-07-06",14.22),("2018-07-11",13.87),("2018-07-16",14.29),("2018-07-19",14.5),("2018-07-24",14.36),("2018-07-29",13.94),("2018-08-03",13.66),("2018-08-07",13.45),("2018-08-12",12.75),("2018-08-17",12.82),("2018-08-21",12.89),("2018-08-26",12.75),("2018-08-31",12.96),("2018-09-04",13.17),("2018-09-09",13.1),("2018-09-14",12.96),("2018-09-19",13.03),("2018-09-23",12.6),("2018-09-28",12.47),("2018-10-03",12.68),("2018-10-08",12.96),("2018-10-11",12.89),("2018-10-16",12.47),("2018-10-21",12.2),("2018-10-26",12.4),("2018-11-01",12.54),("2018-11-05",12.68),("2018-11-10",12.68),("2018-11-15",12.33),("2018-11-20",11.85),("2018-11-25",11.63),("2018-11-28",11.36),("2018-12-03",11.63),("2018-12-08",11.36),("2018-12-11",11.07),("2018-12-14",11.42),("2018-12-19",11.84),("2018-12-24",11.49),("2018-12-29",11.63),("2019-01-02",11.63),("2019-01-07",11.84),("2019-01-12",12.0),("2019-01-17",12.19),("2019-01-21",12.26),("2019-01-26",12.4),("2019-01-31",12.61),("2019-02-05",12.68),("2019-02-10",12.61),("2019-02-15",12.47),("2019-02-19",12.68),("2019-02-24",12.82),("2019-03-01",12.75),("2019-03-06",12.82),("2019-03-12",12.54),("2019-03-17",12.82),("2019-03-22",13.1),("2019-03-27",12.75),("2019-04-01",13.03),("2019-04-05",13.31),("2019-04-11",13.38),("2019-04-16",13.8),("2019-04-21",13.73),("2019-04-26",13.66),("2019-05-02",13.59),("2019-05-07",13.45),("2019-05-12",13.1),("2019-05-17",12.68),("2019-05-22",12.54),("2019-05-26",12.4),("2019-05-31",12.82),("2019-06-04",13.1),("2019-06-09",13.31),("2019-06-14",13.52),("2019-06-19",13.8),("2019-06-24",14.08),("2019-06-28",14.01),("2019-07-03",14.15),("2019-07-08",14.08),("2019-07-12",14.01),("2019-07-17",14.01),("2019-07-22",13.8),("2019-07-28",13.66),("2019-08-02",13.03),("2019-08-07",12.96),("2019-08-11",12.96),("2019-08-16",12.82),("2019-08-21",12.75),("2019-08-26",12.96),("2019-08-31",13.17),("2019-09-05",13.38),("2019-09-10",13.52),("2019-09-15",13.8),("2019-09-19",13.59),("2019-09-24",13.52),("2019-09-30",13.31)]

SERIES = [
    ("VN-Index", VN_INDEX, "#FF0000", 4.5, "legend"),
    ("SENSEX (India)", SENSEX, "#ED7D31", 2.6, "legend"),
    ("JCI (Indonesia)", JCI, "#BFBFBF", 2.6, "legend"),
    ("PSI (Philipines)", PSI, "#FFC000", 2.6, "legend"),
    ("KLSE (Malay)", KLSE, "#5B9BD5", 2.6, "legend2"),
    ("SET (Thai)", SET, "#70AD47", 2.6, "legend2"),
    ("CSI300 (China)", CSI300, "#264478", 2.6, "legend2"),
    ("MSCI_EM", MSCI_EM, "#9E480E", 4.5, "legend2"),
]

MONTHS = ["Jan", "Feb", "Mar", "Apr", "May", "Jun", "Jul", "Aug", "Sep", "Oct", "Nov", "Dec"]
tick_vals, tick_text = [], []
for yr in range(2016, 2020):
    for m in range(1, 13):
        if yr == 2019 and m > 9:
            break
        tick_vals.append(f"{yr}-{m:02d}-01")
        tick_text.append(f"{MONTHS[m-1]}.{str(yr)[2:]}")

FONT = "Lato, Carlito, Calibri, sans-serif"

fig = go.Figure()
for name, data, color, width, leg in SERIES:
    xs = [d for d, _ in data]
    ys = [v for _, v in data]
    fig.add_trace(go.Scatter(x=xs, y=ys, mode="lines", name=name, legend=leg,
                             line=dict(color=color, width=width)))

L, R, T, B = 99, 20, 37, 88
W, H = 1677, 700
pw, ph = W - L - R, H - T - B

def px_x(p):
    return (p - L) / pw

def px_y(p):
    return 1 - (p - T) / ph

legend_common = dict(orientation="h", xanchor="left", yanchor="middle",
                     bgcolor="rgba(0,0,0,0)", font=dict(family=FONT, size=24, color="#000000"),
                     entrywidth=163, entrywidthmode="pixels", itemwidth=45,
                     traceorder="normal")

fig.update_layout(
    width=W, height=H,
    margin=dict(l=L, r=R, t=T, b=B),
    paper_bgcolor="white", plot_bgcolor="white",
    font=dict(family=FONT, size=20, color="#000000"),
    showlegend=True,
    legend=dict(x=px_x(408), y=px_y(43), **legend_common),
    legend2=dict(x=px_x(408), y=px_y(89), **legend_common),
    xaxis=dict(type="date", range=["2016-01-01", "2019-09-30"],
               tickvals=tick_vals, ticktext=tick_text, tickangle=90,
               showgrid=False, showline=True, linecolor="#D9D9D9", linewidth=1.3,
               ticks="outside", ticklen=7, tickcolor="#D9D9D9", tickwidth=1.3,
               tickfont=dict(family=FONT, size=20, color="#000000"),
               zeroline=False, ticklabelstandoff=6),
    yaxis=dict(range=[9, 33], dtick=2, tick0=9, tickformat=".1f",
               showgrid=True, gridcolor="#D9D9D9", gridwidth=1.3,
               showline=False, zeroline=False, ticks="",
               tickfont=dict(family=FONT, size=20, color="#000000"),
               ticklabelstandoff=26),
    shapes=[dict(type="rect", xref="paper", yref="paper",
                 x0=px_x(9.5), x1=px_x(1740), y0=px_y(760), y1=px_y(6.7),
                 line=dict(color="#D9D9D9", width=1.3), fillcolor="rgba(0,0,0,0)",
                 layer="below")],
)

fig.write_html("out.html", config={"displayModeBar": False},
               post_script="document.body.style.margin='0';document.body.style.overflow='hidden';")
